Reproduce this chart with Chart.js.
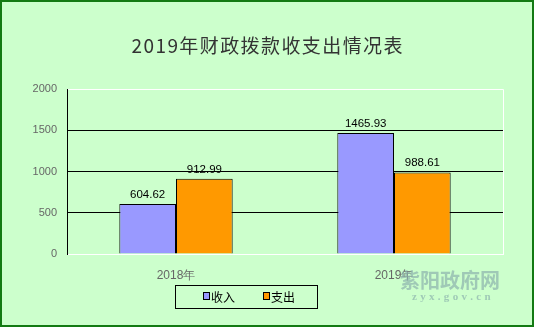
<!DOCTYPE html>
<html>
<head>
<meta charset="utf-8">
<script src="https://cdn.jsdelivr.net/npm/chart.js@4/dist/chart.umd.min.js"></script>
<style>
  html, body { margin: 0; padding: 0; background: #ccffcc; }
  #wrap { width: 534px; height: 327px; position: relative; }
</style>
</head>
<body>
<div id="wrap"><canvas id="c" width="534" height="327"></canvas></div>
<script>
// Chart data
const categories = ['2018年', '2019年'];
const seriesNames = ['收入', '支出'];
const incomeValues = [604.62, 1465.93];
const expenseValues = [912.99, 988.61];
const yTicks = [0, 500, 1000, 1500, 2000];
const titleText = '2019年财政拨款收支出情况表';

const COLORS = ['#9999ff', '#ff9900'];
const LABEL_FONT = '"Liberation Sans", Arial, sans-serif';

// Background, frame, title, value labels, legend box and site mark
const decor = {
  id: 'decor',
  beforeDraw(chart) {
    const ctx = chart.ctx;
    ctx.save();
    ctx.fillStyle = '#ccffcc';
    ctx.fillRect(0, 0, chart.width, chart.height);
    ctx.restore();
  },
  afterDatasetsDraw(chart) {
    const ctx = chart.ctx;
    const a = chart.chartArea;
    ctx.save();
    // white plot-area frame on top and right
    ctx.strokeStyle = '#ffffff';
    ctx.lineWidth = 1;
    ctx.beginPath();
    ctx.moveTo(a.left + 1, a.top + 0.5);
    ctx.lineTo(a.right + 0.5, a.top + 0.5);
    ctx.lineTo(a.right + 0.5, a.bottom + 0.5);
    ctx.stroke();

    // value labels
    ctx.fillStyle = '#000';
    ctx.font = '11.5px ' + LABEL_FONT;
    ctx.textAlign = 'center';
    ctx.textBaseline = 'alphabetic';
    chart.data.datasets.forEach((ds, di) => {
      chart.getDatasetMeta(di).data.forEach((bar, i) => {
        ctx.fillText(ds.data[i].toFixed(2), bar.x, bar.y - 6);
      });
    });

    // title
    ctx.fillStyle = '#333333';
    ctx.font = '19px "Noto Sans CJK SC", sans-serif';
    ctx.textBaseline = 'middle';
    ctx.textAlign = 'left';
    const targetW = 271;
    const w0 = ctx.measureText(titleText).width;
    const gap = Math.max(0, (targetW - w0) / (titleText.length - 1));
    let x = 267 - targetW / 2;
    for (const ch of titleText) {
      ctx.fillText(ch, x, 46);
      x += ctx.measureText(ch).width + gap;
    }

    // legend box
    ctx.strokeStyle = '#000';
    ctx.lineWidth = 1;
    ctx.strokeRect(175.5, 285.5, 142, 23);
    ctx.font = '12px "Noto Sans CJK SC", sans-serif';
    ctx.textBaseline = 'middle';
    const legendX = [203, 263];
    seriesNames.forEach((name, i) => {
      ctx.fillStyle = COLORS[i];
      ctx.fillRect(legendX[i] + 0.5, 292.5, 6, 7);
      ctx.strokeStyle = '#000';
      ctx.strokeRect(legendX[i] + 0.5, 292.5, 6, 7);
      ctx.fillStyle = '#000';
      ctx.fillText(name, legendX[i] + 8, 297);
    });

    // site mark
    ctx.fillStyle = 'rgba(140,178,172,0.7)';
    ctx.font = 'bold 20px "Noto Sans CJK SC", sans-serif';
    ctx.textAlign = 'center';
    ctx.fillText('紫阳政府网', 450, 280);
    ctx.font = 'bold 11px "Liberation Serif", serif';
    const mark = 'zyx.gov.cn';
    const mw = ctx.measureText(mark).width;
    const mgap = (78 - mw) / (mark.length - 1);
    ctx.textAlign = 'left';
    let mx = 412;
    for (const ch of mark) {
      ctx.fillText(ch, mx, 297);
      mx += ctx.measureText(ch).width + mgap;
    }

    // outer frame
    ctx.strokeStyle = '#137a13';
    ctx.lineWidth = 2;
    ctx.strokeRect(1, 1, chart.width - 2, chart.height - 2);
    ctx.restore();
  }
};

new Chart(document.getElementById('c'), {
  type: 'bar',
  data: {
    labels: categories,
    datasets: [
      { label: seriesNames[0], data: incomeValues, backgroundColor: COLORS[0], borderColor: '#000', borderWidth: 1 },
      { label: seriesNames[1], data: expenseValues, backgroundColor: COLORS[1], borderColor: '#000', borderWidth: 1 }
    ]
  },
  options: {
    responsive: false,
    animation: false,
    devicePixelRatio: 1,
    layout: { padding: { top: 89, right: 31, bottom: 0, left: 0 } },
    plugins: { legend: { display: false }, title: { display: false }, tooltip: { enabled: false } },
    datasets: { bar: { categoryPercentage: 0.52, barPercentage: 1 } },
    scales: {
      x: {
        afterFit(s) { s.height = 73; },
        grid: { display: false },
        border: { color: '#ffffff', width: 1 },
        ticks: { color: '#666666', font: { family: LABEL_FONT, size: 12 }, padding: 6 }
      },
      y: {
        min: 0, max: 2000,
        afterFit(s) { s.width = 67; },
        afterBuildTicks(s) { s.ticks = yTicks.map(v => ({ value: v })); },
        grid: {
          drawTicks: false,
          color: c => (c.tick && (c.tick.value === 0 || c.tick.value === 2000)) ? 'rgba(0,0,0,0)' : '#000000',
          lineWidth: 1
        },
        border: { color: '#000000', width: 1 },
        ticks: {
          color: '#666666',
          font: { family: LABEL_FONT, size: 11 },
          padding: 10,
          callback: v => String(v)
        }
      }
    }
  },
  plugins: [decor]
});
</script>
</body>
</html>
